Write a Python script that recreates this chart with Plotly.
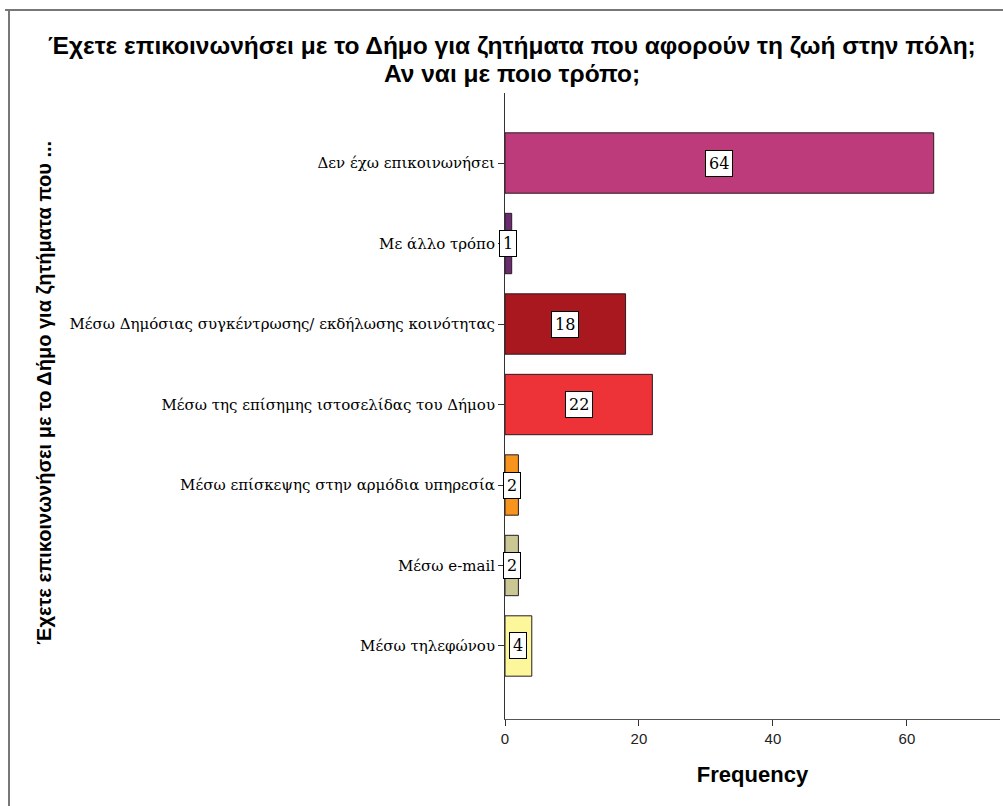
import plotly.graph_objects as go

# data
categories = [
    "Δεν έχω επικοινωνήσει",
    "Με άλλο τρόπο",
    "Μέσω Δημόσιας συγκέντρωσης/ εκδήλωσης κοινότητας",
    "Μέσω της επίσημης ιστοσελίδας του Δήμου",
    "Μέσω επίσκεψης στην αρμόδια υπηρεσία",
    "Μέσω e-mail",
    "Μέσω τηλεφώνου",
]
counts = [64, 1, 18, 22, 2, 2, 4]
colors = ["#BE3B7B", "#6A2C6E", "#A8181E", "#EE3338", "#F7941D", "#CBC795", "#FDF79B"]

TITLE_LINES = [
    "Έχετε επικοινωνήσει με το Δήμο για ζητήματα που αφορούν τη ζωή στην πόλη;",
    "Αν ναι με ποιο τρόπο;",
]
YTITLE = "Έχετε επικοινωνήσει με το Δήμο για ζητήματα που ..."

SERIF = "DejaVu Serif, Liberation Serif, serif"
SANS = "Liberation Sans, Arial, sans-serif"

fig = go.Figure(
    go.Bar(
        x=counts,
        y=categories,
        orientation="h",
        width=0.75,
        marker=dict(color=colors, line=dict(color="#2a1a22", width=1)),
        hoverinfo="x+y",
    )
)

# value labels in white boxes, placed at the middle of each bar
for cat, v in zip(categories, counts):
    fig.add_annotation(
        x=v / 2,
        y=cat,
        text=str(v),
        showarrow=False,
        bgcolor="white",
        bordercolor="black",
        borderwidth=1,
        borderpad=3,
        font=dict(family=SERIF, size=16, color="black"),
    )

# two title lines (annotations so the line spacing can be kept tight)
for txt, yy in zip(TITLE_LINES, [1.0751, 1.0304]):
    fig.add_annotation(
        text=txt,
        xref="paper",
        yref="paper",
        x=0.014,
        y=yy,
        xanchor="center",
        yanchor="middle",
        showarrow=False,
        borderpad=0,
        font=dict(family=SANS, size=24.5, color="black", weight="bold"),
    )

# rotated y-axis title
fig.add_annotation(
    text="<b>" + YTITLE + "</b>",
    xref="paper",
    yref="paper",
    x=-0.958,
    y=0.521,
    textangle=-90,
    showarrow=False,
    font=dict(family=SANS, size=20, color="black"),
)

# outer frame (top and left edges)
fig.add_shape(type="line", xref="paper", yref="paper", x0=-1.01, x1=1.01, y0=1.1326, y1=1.1326,
              line=dict(color="#777777", width=2))
fig.add_shape(type="line", xref="paper", yref="paper", x0=-1.002, x1=-1.002, y0=-0.2, y1=1.1326,
              line=dict(color="#777777", width=2))

fig.update_layout(
    width=1003,
    height=806,
    margin=dict(l=505, r=3, t=93, b=87),
    paper_bgcolor="white",
    plot_bgcolor="white",
    showlegend=False,
    xaxis=dict(
        range=[0, 73.9],
        tickvals=[0, 20, 40, 60],
        showgrid=False,
        zeroline=False,
        showline=True,
        linecolor="#555555",
        linewidth=1,
        ticks="outside",
        ticklen=6,
        tickcolor="#333333",
        tickfont=dict(family=SANS, size=15, color="#222222"),
        title=dict(text="<b>Frequency</b>", font=dict(family=SANS, size=22, color="black"), standoff=20),
    ),
    yaxis=dict(
        categoryorder="array",
        categoryarray=categories,
        range=[6.907, -0.87],
        showgrid=False,
        zeroline=False,
        showline=True,
        linecolor="#333333",
        linewidth=1,
        ticks="outside",
        ticklen=6,
        tickcolor="#333333",
        tickfont=dict(family=SERIF, size=15, color="black"),
    ),
)

# drop the default page margin so the figure sits at the window's top-left corner
fig.write_html(
    "out.html",
    config={"displayModeBar": False},
    post_script="document.body.style.margin='0';",
)
